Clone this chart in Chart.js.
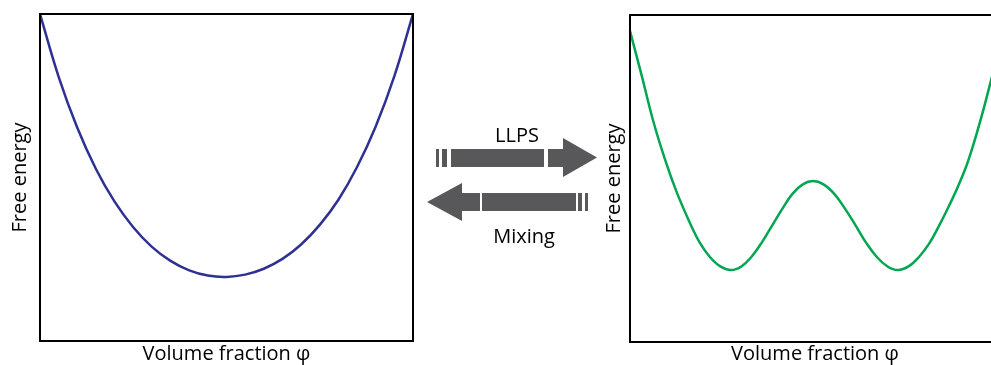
<!DOCTYPE html>
<html>
<head>
<meta charset="utf-8">
<script src="https://cdn.jsdelivr.net/npm/chart.js@4/dist/chart.umd.min.js"></script>
<style>
  html, body { margin: 0; padding: 0; background: #fff; }
  body { width: 991px; height: 365px; position: relative; overflow: hidden; font-family: "Open Sans", sans-serif; }
  canvas { position: absolute; top: 0; }
  #mixedCanvas { left: 0; }
  #separatedCanvas { left: 594px; }
  #arrows { position: absolute; left: 0; top: 0; }
  .label { position: absolute; font-size: 20px; line-height: 24px; color: #000; transform: translateX(-50%); white-space: nowrap; }
</style>
</head>
<body>
<canvas id="mixedCanvas" width="420" height="365"></canvas>
<canvas id="separatedCanvas" width="420" height="365"></canvas>

<svg id="arrows" width="991" height="365">
  <g fill="#58585a">
    <!-- forward arrow: demixing -->
    <rect x="436" y="149" width="3" height="18"/>
    <rect x="442" y="149" width="5" height="18"/>
    <rect x="451" y="149" width="93" height="18"/>
    <polygon points="548,149 563,149 563,138 597,157.5 563,177 563,167 548,167"/>
    <!-- backward arrow: mixing -->
    <polygon points="427,202 462,183 462,193 480,193 480,211 462,211 462,221"/>
    <rect x="482" y="193" width="94" height="18"/>
    <rect x="578" y="193" width="4" height="18"/>
    <rect x="585" y="193" width="3" height="18"/>
  </g>
</svg>
<div class="label" style="left:517px; top:123px;">LLPS</div>
<div class="label" style="left:524px; top:224px;">Mixing</div>

<script>
// Volume fraction samples (normalised 0..1)
const phiMixed = [0, 0.05, 0.1, 0.15, 0.2, 0.25, 0.3, 0.35, 0.4, 0.45, 0.5,
                  0.55, 0.6, 0.65, 0.7, 0.75, 0.8, 0.85, 0.9, 0.95, 1];
// Free energy of the homogeneous mixture (single well)
const energyMixed = [1.0, 0.808, 0.652, 0.526, 0.426, 0.348, 0.288, 0.245, 0.216, 0.200, 0.196,
                     0.203, 0.221, 0.251, 0.295, 0.355, 0.432, 0.532, 0.656, 0.810, 1.0];

// Volume fraction samples for the phase-separating system
const phiSeparated = [
  0, 0.032, 0.062, 0.095, 0.127, 0.162, 0.189, 0.216, 0.243, 0.273,
  0.301, 0.328, 0.356, 0.384, 0.412, 0.439, 0.467, 0.495,
  0.523, 0.552, 0.581, 0.610, 0.638, 0.667, 0.696, 0.724,
  0.754, 0.781, 0.808, 0.835, 0.862, 0.887, 0.914, 0.946, 0.976, 1
];
// Free energy with two minima (double well)
const energySeparated = [
  0.951, 0.813, 0.679, 0.557, 0.456, 0.364, 0.303, 0.260, 0.232, 0.220,
  0.231, 0.260, 0.304, 0.356, 0.408, 0.453, 0.482, 0.492,
  0.482, 0.453, 0.408, 0.356, 0.304, 0.260, 0.231, 0.220,
  0.232, 0.260, 0.300, 0.355, 0.416, 0.477, 0.554, 0.673, 0.801, 0.905
];

const xTitle = "Volume fraction φ";
const yTitle = "Free energy";

const FONT = { family: "'Open Sans', sans-serif", size: 20, lineHeight: 1.1 };

// Draws the black frame around the plot area
const framePlugin = {
  id: 'frame',
  afterDraw(chart) {
    const { ctx, chartArea: a } = chart;
    ctx.save();
    ctx.strokeStyle = '#000';
    ctx.lineWidth = 2;
    ctx.strokeRect(a.left, a.top, a.right - a.left, a.bottom - a.top);
    ctx.restore();
  }
};

function buildChart(id, xs, ys, color, pad, axisW, axisH) {
  return new Chart(document.getElementById(id), {
    type: 'line',
    data: {
      datasets: [{
        data: xs.map((x, i) => ({ x, y: ys[i] })),
        borderColor: color,
        borderWidth: 2.5,
        pointRadius: 0,
        fill: false,
        tension: 0.4
      }]
    },
    options: {
      responsive: false,
      animation: false,
      events: [],
      layout: { padding: pad },
      plugins: { legend: { display: false }, tooltip: { enabled: false } },
      scales: {
        x: {
          type: 'linear', min: 0, max: 1,
          grid: { display: false },
          border: { display: false },
          ticks: { display: false },
          title: { display: true, text: xTitle, color: '#000', font: FONT, padding: { top: 0, bottom: 0 } },
          afterFit(scale) { scale.height = axisH; }
        },
        y: {
          type: 'linear', min: 0, max: 1,
          grid: { display: false },
          border: { display: false },
          ticks: { display: false },
          title: { display: true, text: yTitle, color: '#000', font: FONT, padding: { top: 9, bottom: 0 } },
          afterFit(scale) { scale.width = axisW; }
        }
      }
    },
    plugins: [framePlugin]
  });
}

buildChart('mixedCanvas', phiMixed, energyMixed, '#2e3192', { top: 14, right: 7, left: 0, bottom: 0 }, 40, 24);
buildChart('separatedCanvas', phiSeparated, energySeparated, '#00a651', { top: 15, right: 14, left: 0, bottom: 0 }, 36, 23);
</script>
</body>
</html>
